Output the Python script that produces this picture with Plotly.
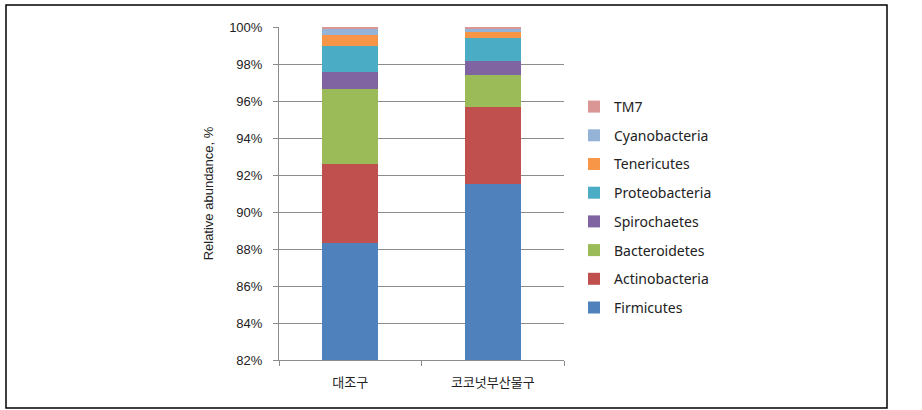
import plotly.graph_objects as go

categories = ["대조구", "코코넛부산물구"]
phyla = ["Firmicutes", "Actinobacteria", "Bacteroidetes", "Spirochaetes",
         "Proteobacteria", "Tenericutes", "Cyanobacteria", "TM7"]
firmicutes = [88.30, 91.50]
actinobacteria = [4.30, 4.15]
bacteroidetes = [4.05, 1.77]
spirochaetes = [0.90, 0.76]
proteobacteria = [1.40, 1.20]
tenericutes = [0.63, 0.37]
cyanobacteria = [0.34, 0.17]
tm7 = [0.08, 0.08]
colors = ["#4F81BD", "#C0504D", "#9BBB59", "#8064A2",
          "#4BACC6", "#F79646", "#95B3D7", "#D99694"]

series = [firmicutes, actinobacteria, bacteroidetes, spirochaetes,
          proteobacteria, tenericutes, cyanobacteria, tm7]

fig = go.Figure()
n = len(phyla)
for i, (name, vals, col) in enumerate(zip(phyla, series, colors)):
    fig.add_trace(go.Bar(x=categories, y=vals, name=name, marker_color=col,
                         marker_line_width=0, width=0.39, legendgroup=name,
                         legendrank=1000 - i))

W, H = 922, 410
L, R, T, B = 279, 564, 27, 360
fig.update_layout(
    width=W, height=H,
    margin=dict(l=L, r=W - R, t=T, b=H - B),
    barmode="stack",
    plot_bgcolor="white", paper_bgcolor="white",
    font=dict(family="Liberation Sans, Arial, sans-serif", size=13, color="#000000"),
    showlegend=True,
    legend=dict(traceorder="grouped", x=(574 - L) / (R - L), xanchor="left",
                y=(B - 91) / (B - T), yanchor="top", tracegroupgap=7.5,
                font=dict(family="Noto Sans, sans-serif", size=14, color="#222"),
                itemwidth=30, bgcolor="rgba(0,0,0,0)"),
    yaxis=dict(range=[82, 100], dtick=2, tick0=82, ticksuffix="%",
               showgrid=True, gridcolor="#8C8C8C", gridwidth=1,
               showline=True, linecolor="#8C8C8C", linewidth=1,
               ticks="outside", ticklen=5, tickcolor="#8C8C8C",
               ticklabelstandoff=8,
               tickfont=dict(family="Liberation Sans, Arial", size=13, color="#222"),
               title=dict(text="Relative abundance, %", standoff=12,
                          font=dict(family="Liberation Sans, Arial", size=13, color="#222")),
               zeroline=False),
    xaxis=dict(showline=True, linecolor="#8C8C8C", linewidth=1,
               ticks="outside", ticklen=5, tickcolor="#8C8C8C", tickson="boundaries",
               ticklabelstandoff=10,
               tickfont=dict(family="Noto Sans CJK KR", size=13, color="#222")),
)

fig.add_shape(type="rect", xref="paper", yref="paper",
              x0=(6 - L) / (R - L), x1=(887 - L) / (R - L),
              y0=(B - 408) / (B - T), y1=(B - 5) / (B - T),
              line=dict(color="black", width=1.5), fillcolor="rgba(0,0,0,0)", layer="below")

fig.write_html("out.html")
